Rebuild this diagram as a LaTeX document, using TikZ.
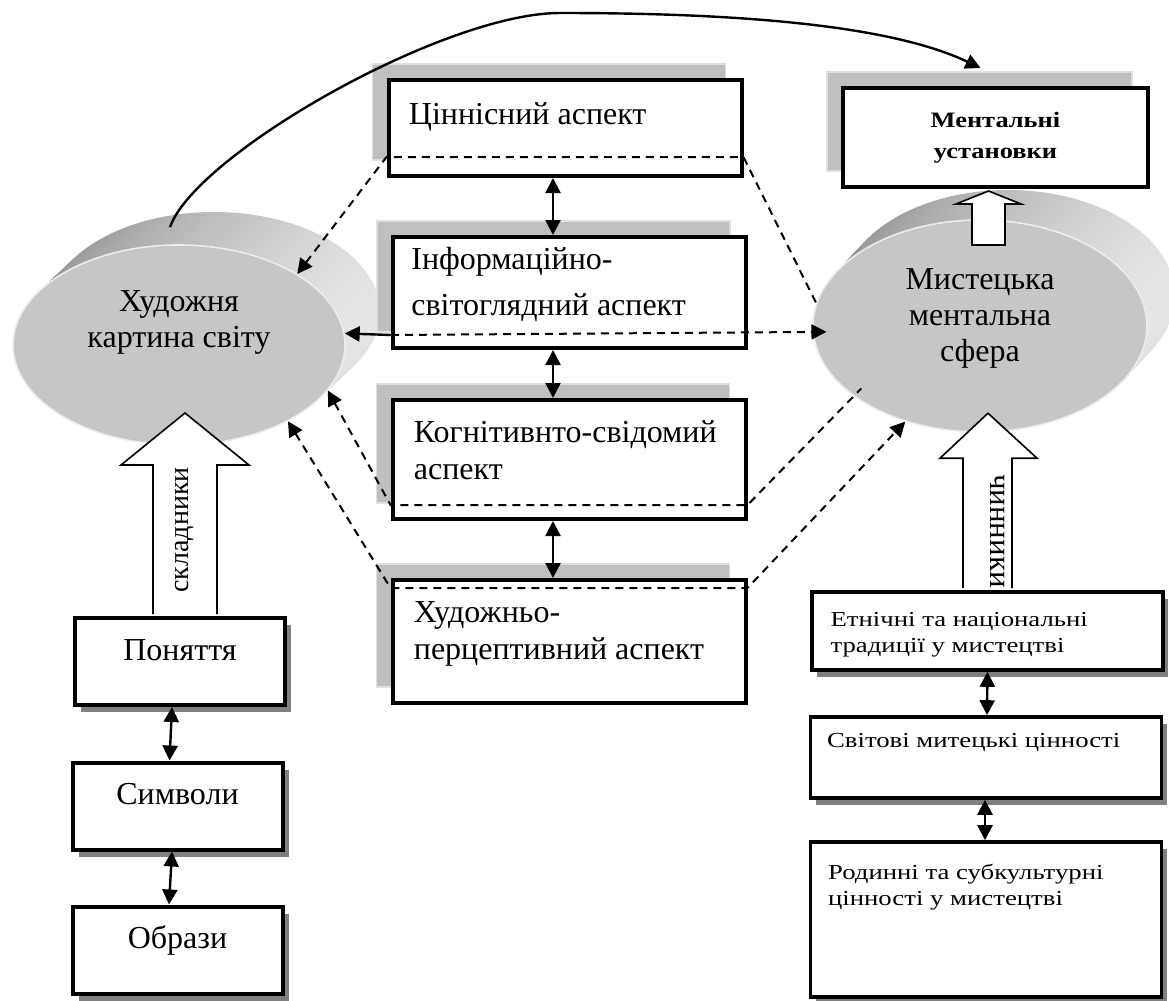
\documentclass[tikz,border=0pt]{standalone}
\usepackage{fontspec}
\setmainfont{Liberation Serif}
\newfontfamily\widefont[FakeStretch=1.25]{Liberation Serif}
\newfontfamily\boldwide[FakeStretch=1.2]{Liberation Serif}
\usetikzlibrary{positioning,shapes.geometric,shadows,arrows.meta,calc}

\begin{document}
\begin{tikzpicture}[
  x=0.5pt, y=-0.5pt,
  >={Triangle[width=7.5pt,length=7.5pt]},
  aspect/.style={rectangle, draw=black, line width=2pt, fill=white, minimum width=176.5pt, inner sep=0pt,
    drop shadow={shadow xshift=-8pt, shadow yshift=8pt, fill=gray!50, draw=gray!25, line width=0.6pt, opacity=1}},
  asptext/.style={inner sep=0pt, align=left, font=\fontsize{16pt}{18.5pt}\selectfont},
  lowbox/.style={rectangle, draw=black, line width=2pt, fill=white, minimum width=105pt, inner ysep=0pt,
    text height=21pt, text depth=22.5pt, font=\fontsize{16pt}{18pt}\selectfont,
    drop shadow={shadow xshift=3pt, shadow yshift=-3.5pt, fill=black!50, draw=none, opacity=1}},
  factbox/.style={rectangle, draw=black, line width=1.8pt, fill=white, minimum width=175.5pt, inner sep=0pt,
    drop shadow={shadow xshift=2.5pt, shadow yshift=-3.5pt, fill=black!50, draw=none, opacity=1}},
  facttext/.style={inner sep=0pt, align=left, font=\widefont\fontsize{10.7pt}{13pt}\selectfont},
  sphere/.style={ellipse, fill=gray!45, draw=gray!15, line width=0.8pt, inner sep=0pt},
  spheretext/.style={align=center, inner sep=0pt, font=\fontsize{16pt}{18pt}\selectfont},
  blockarr/.style={draw=black, fill=white, line width=0.8pt},
  dblarrow/.style={<->, line width=1.2pt},
  dashline/.style={dash pattern=on 4pt off 3pt, line width=1pt},
  arrow/.style={->, line width=1.2pt}
]
\useasboundingbox (0,0) rectangle (1169,1001);

% --- ELLIPSES (back faces first) ---
\foreach \k in {10,...,1} {
  \shade[left color=gray!85, right color=gray!20] ({179+3.5*\k},{345-3.3*\k}) ellipse [x radius=166, y radius=100];
  \shade[left color=gray!85, right color=gray!20] ({980+2.8*\k},{326-3*\k}) ellipse [x radius=167, y radius=106];
}
\node[sphere, minimum width=166pt, minimum height=100pt] (hkart) at (179,345) {};
\node[spheretext] (hkarttxt) at ([yshift=11.5pt]hkart.center) {Художня\\картина світу};
\node[sphere, minimum width=167pt, minimum height=106pt] (msfera) at (980,326) {};
\node[spheretext] (msferatxt) at ([yshift=4pt]msfera.center) {Мистецька\\ментальна\\сфера};

% --- CENTRAL ASPECTS ---
\node[aspect, minimum height=48pt] (aspval) at (565,128) {};
\node[aspect, minimum height=55.5pt] (aspinfo) at (569.5,292.5) {};
\node[aspect, minimum height=59.5pt] (aspcog) at (569,459.5) {};
\node[aspect, minimum height=61.5pt] (aspart) at (569,641.5) {};

\node[asptext, below right=12pt and 11pt of aspval.north west] (aspvaltxt) {Ціннісний аспект};
\node[asptext, below right=6pt and 10pt of aspinfo.north west] (aspinfotxt) {Інформаційно-\\[4.5pt]світоглядний аспект};
\node[asptext, below right=11pt and 11.5pt of aspcog.north west] (aspcogtxt) {Когнітивнто-свідомий\\аспект};
\node[asptext, below right=11.5pt and 11.5pt of aspart.north west] (aspparttxt) {Художньо-\\перцептивний аспект};

% Mental attitudes
\node[aspect, minimum width=152.5pt, minimum height=49.5pt, align=center,
  font=\boldwide\bfseries\fontsize{11pt}{15.5pt}\selectfont] (mentust) at (995.5,137.5) {Ментальні\\установки};

% --- LEFT COLUMN ---
\node[lowbox] (ponattia) at (180,661.5) {Поняття};
\node[lowbox] (symvoly) at (177.5,806) {Символи};
\node[lowbox] (obrazy) at (177.5,950) {Образи};

% --- RIGHT COLUMN ---
\node[factbox, minimum height=39pt] (etnich) at (987.5,631) {};
\node[factbox, minimum height=40.5pt] (svitovi) at (986,757.5) {};
\node[factbox, minimum height=77.5pt] (rodynni) at (986,919.5) {};

\node[facttext, below right=11pt and 10pt of etnich.north west] (etnichtxt) {Етнічні та національні\\традиції у мистецтві};
\node[facttext, below right=9pt and 9pt of svitovi.north west] (svitovitxt) {Світові митецькі цінності};
\node[facttext, below right=12pt and 9.5pt of rodynni.north west] (rodynnitxt) {Родинні та субкультурні\\цінності у мистецтві};

% --- BLOCK ARROWS ---
\draw[blockarr] ($(ponattia.north)+(-27,-2)$) -- ++(0,-149) -- ++(-32,0) -- ++(64,-52) -- ++(64,52) -- ++(-32,0) -- ++(0,149);
\draw[blockarr] ($(etnich.north)+(-24.5,-2)$) -- ++(0,-130) -- ++(-23,0) -- ++(48,-45) -- ++(49,45) -- ++(-25,0) -- ++(0,130);
\draw[blockarr] ($(mentust.south)+(-23.5,56)$) -- ++(0,-41) -- ++(-16,0) -- ++(32.5,-13) -- ++(32.5,13) -- ++(-16,0) -- ++(0,41) -- cycle;

\node[rotate=90, font=\fontsize{14pt}{16pt}\selectfont] (skladn) at (185,530) {складники};
\node[rotate=-90, font=\fontsize{15.5pt}{16pt}\selectfont] (chynn) at (998,531) {чинники};

% --- DOUBLE ARROWS ---
\draw[dblarrow] ([xshift=-6pt]aspval.south) -- ([xshift=-8.25pt]aspinfo.north);
\draw[dblarrow] ([xshift=-8.25pt]aspinfo.south) -- ([xshift=-8pt]aspcog.north);
\draw[dblarrow] ([xshift=-8pt]aspcog.south) -- ([xshift=-8pt]aspart.north);

\draw[dblarrow] ([xshift=-4pt]ponattia.south) -- ([xshift=-4pt]symvoly.north);
\draw[dblarrow] ([xshift=-2.75pt]symvoly.south) -- ([xshift=-4.25pt]obrazy.north);

\draw[dblarrow] (etnich.south) -- ([xshift=0.5pt]svitovi.north);
\draw[dblarrow] ([xshift=-0.5pt]svitovi.south) -- ([xshift=-0.5pt]rodynni.north);

% --- CURVED ARROW ---
\draw[arrow] ([shift={(-9,-17)}]hkart.north) .. controls (195,155) and (443,13) .. (560,13)
  .. controls (700,13) and (880,20) .. ([shift={(-15,-18)}]mentust.north);

% --- DASHED LINKS ---
\draw[dashline, <-] (hkart.31) -- ([yshift=10.5pt]aspval.south west) -- ([yshift=10.5pt]aspval.south east) -- (msfera.172);
\draw[arrow] ([yshift=7.5pt]aspinfo.south west) -- (hkart.4);
\draw[dashline, ->] ([yshift=7.5pt]aspinfo.south west) -- ([shift={(14,0)}]msfera.182);
\draw[dashline, <-] (hkart.-17) -- ([yshift=8pt]aspcog.south west) -- ([yshift=8pt]aspcog.south east) -- ([shift={(10,-6)}]msfera.208);
\draw[dashline, <->] (hkart.-35) -- ([yshift=-5pt]aspart.north west) -- ([yshift=-5pt]aspart.north east) -- (msfera.232);

\end{tikzpicture}
\end{document}
